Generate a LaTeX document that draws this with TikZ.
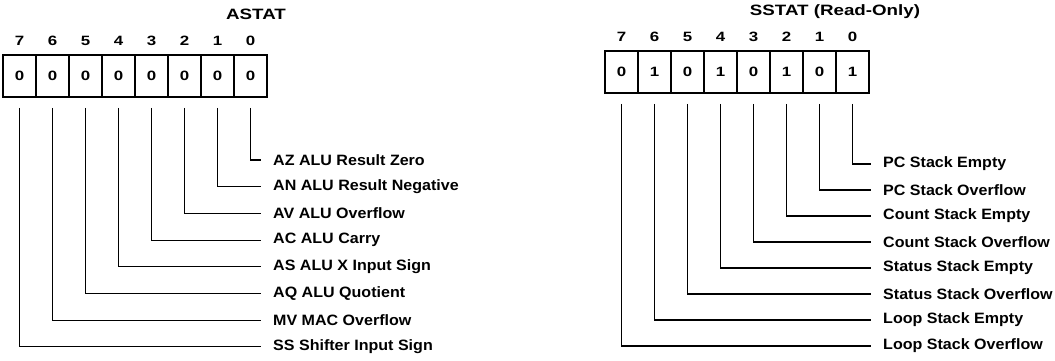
\documentclass[tikz,border=0pt]{standalone}
\usepackage{fontspec}
\setmainfont{Liberation Sans}
\newfontfamily\widefont[FakeStretch=1.25]{Liberation Sans}
\newfontfamily\flagfont[FakeStretch=1.07]{Liberation Sans}
\usetikzlibrary{positioning}
\tikzset{
	bit cell/.style={draw,line width=1.6pt,minimum width=33pt,minimum height=42pt,
		inner sep=0pt,font=\widefont\fontsize{13.5}{14}\selectfont\bfseries},
	bit num/.style={inner sep=0pt,font=\widefont\fontsize{13.5}{14}\selectfont\bfseries},
	reg title/.style={inner sep=0pt,font=\widefont\fontsize{15}{16}\selectfont\bfseries},
	flag/.style={anchor=west,inner xsep=12pt,inner ysep=0pt,
		font=\flagfont\fontsize{15}{16}\selectfont\bfseries},
	lead/.style={line width=1.1pt},
	lead gap/.store in=\leadgap,
	lead gap=10pt
}

\begin{document}
\begin{tikzpicture}[x=1pt,y=-1pt]
   \useasboundingbox (0,0) rectangle (1055,361);
   % ASTAT
   \node[reg title] (astat) at (256,14) {ASTAT};
   \foreach \b/\v in {7/0,6/0,5/0,4/0,3/0,2/0,1/0,0/0} {
      \node[bit cell] (a\b) at ({19.5+33*(7-\b)},76) {\v};
      \node[bit num, above=8pt of a\b] (an\b) {\b};
   }
   \foreach \b/\t in {0/AZ ALU Result Zero,1/AN ALU Result Negative,2/AV ALU Overflow,
         3/AC ALU Carry,4/AS ALU X Input Sign,5/AQ ALU Quotient,6/MV MAC Overflow,
         7/SS Shifter Input Sign} {
      \node[flag] (af\b) at (261,{160+26.7*\b}) {\t};
      \draw[lead] ([yshift=-\leadgap]a\b.south) |- (af\b.west);
   }
   % SSTAT
   \node[reg title] (sstat) at (835,12) {SSTAT (Read-Only)};
   \foreach \b/\v in {7/0,6/1,5/0,4/1,3/0,2/1,1/0,0/1} {
      \node[bit cell] (s\b) at ({621.5+33*(7-\b)},72) {\v};
      \node[bit num, above=8pt of s\b] (sn\b) {\b};
   }
   \foreach \b/\t in {0/PC Stack Empty,1/PC Stack Overflow,2/Count Stack Empty,
         3/Count Stack Overflow,4/Status Stack Empty,5/Status Stack Overflow,
         6/Loop Stack Empty,7/Loop Stack Overflow} {
      \node[flag] (sf\b) at (871,{164+26*\b}) {\t};
      \draw[lead] ([yshift=-\leadgap]s\b.south) |- (sf\b.west);
   }
\end{tikzpicture}
\end{document}
